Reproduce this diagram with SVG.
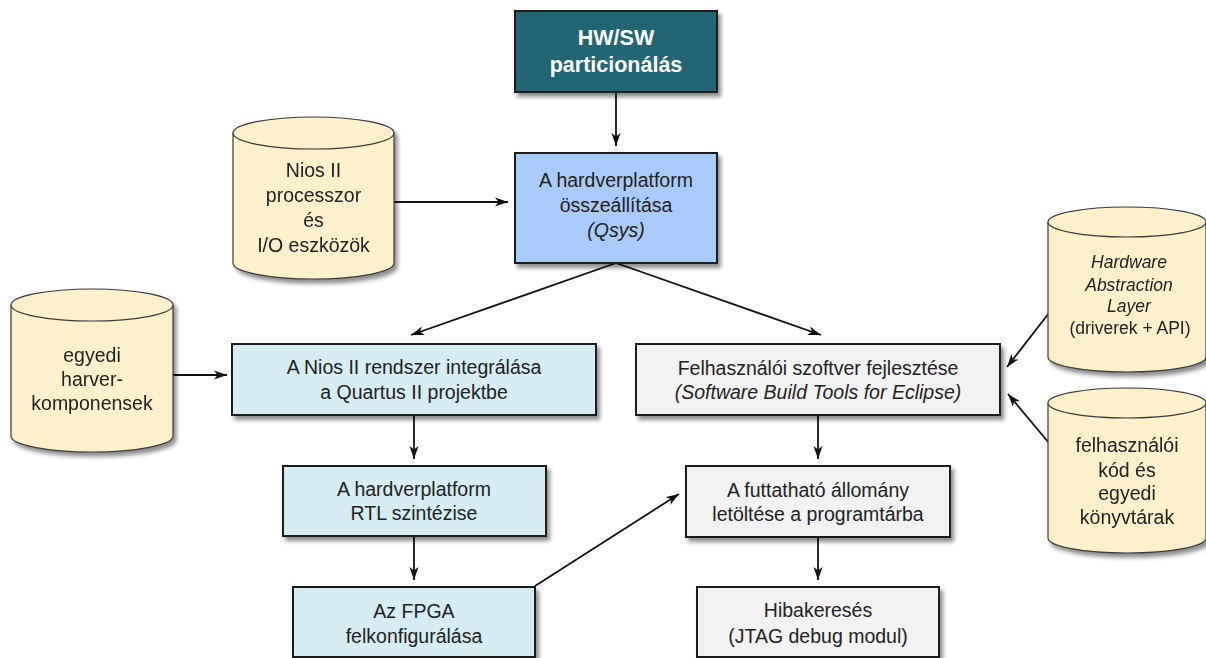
<svg xmlns="http://www.w3.org/2000/svg" width="1206" height="658" viewBox="0 0 1206 658">
<defs>
<filter id="sh" x="-10%" y="-10%" width="130%" height="140%">
<feDropShadow dx="3" dy="4" stdDeviation="2.2" flood-color="#000" flood-opacity="0.45"/>
</filter>
<marker id="ah" markerWidth="14" markerHeight="10" refX="13" refY="5" orient="auto" markerUnits="userSpaceOnUse">
<path d="M0,0.5 L13,5 L0,9.5 L3.5,5 Z" fill="#111"/>
</marker>
<style>
.box{stroke:#1a1a1a;stroke-width:2;filter:url(#sh)}
.cyl{fill:#fdf1cb;stroke:#3a3a3a;stroke-width:1.2}
.cylg{filter:url(#sh)}
.t{font-family:"Liberation Sans",Arial,sans-serif;font-size:19.5px;fill:#222;text-anchor:middle}
.s{font-size:17.5px}
.i{font-style:italic}
.w{fill:#fff;font-weight:bold;font-size:21.5px}
.c{stroke:#111;stroke-width:1.8;fill:none;marker-end:url(#ah)}
</style>
</defs>
<rect width="1206" height="658" fill="#fff"/>

<g id="connectors">
<line class="c" x1="616" y1="92" x2="616" y2="146"/>
<line class="c" x1="394" y1="202" x2="508" y2="202"/>
<line class="c" x1="616" y1="263" x2="411" y2="335"/>
<line class="c" x1="616" y1="263" x2="821" y2="335"/>
<line class="c" x1="173" y1="375" x2="227" y2="375"/>
<line class="c" x1="414" y1="415" x2="414" y2="459"/>
<line class="c" x1="414" y1="536" x2="414" y2="580"/>
<line class="c" x1="535" y1="586" x2="679" y2="494"/>
<line class="c" x1="1049" y1="313" x2="1007" y2="367"/>
<line class="c" x1="1049" y1="443" x2="1008" y2="394"/>
<line class="c" x1="818" y1="415" x2="818" y2="459"/>
<line class="c" x1="818" y1="537" x2="818" y2="580"/>
</g>

<g id="hwsw">
<rect class="box" x="515" y="11" width="202" height="81" fill="#216574"/>
<text class="t w" x="616" y="45">HW/SW</text>
<text class="t w" x="616" y="72">particionálás</text>
</g>

<g id="hardverplatform">
<rect class="box" x="515" y="153" width="202" height="110" fill="#a9cbfa"/>
<text class="t" x="616" y="187">A hardverplatform</text>
<text class="t" x="616" y="212">összeállítása</text>
<text class="t i" x="616" y="237">(Qsys)</text>
</g>

<g id="nios-cyl" class="cylg">
<path class="cyl" d="M233,133 A80.5,16 0 0 1 394,133 L394,263 A80.5,16 0 0 1 233,263 Z"/>
<path class="cyl" fill="none" d="M233,133 A80.5,16 0 0 0 394,133"/>
<text class="t" x="313.5" y="177">Nios II</text>
<text class="t" x="313.5" y="202">processzor</text>
<text class="t" x="313.5" y="227">és</text>
<text class="t" x="313.5" y="252">I/O eszközök</text>
</g>

<g id="egyedi-cyl" class="cylg">
<path class="cyl" d="M11,305 A81,16 0 0 1 173,305 L173,436 A81,16 0 0 1 11,436 Z"/>
<path class="cyl" fill="none" d="M11,305 A81,16 0 0 0 173,305"/>
<text class="t" x="92" y="362">egyedi</text>
<text class="t" x="92" y="386">harver-</text>
<text class="t" x="92" y="410">komponensek</text>
</g>

<g id="hal-cyl" class="cylg">
<path class="cyl" d="M1048,222 A79,15 0 0 1 1206,222 L1206,357 A79,15 0 0 1 1048,357 Z"/>
<path class="cyl" fill="none" d="M1048,222 A79,15 0 0 0 1206,222"/>
<text class="t s i" x="1129" y="268">Hardware</text>
<text class="t s i" x="1129" y="291">Abstraction</text>
<text class="t s i" x="1129" y="312">Layer</text>
<text class="t s" x="1130" y="334">(driverek + API)</text>
</g>

<g id="felh-cyl" class="cylg">
<path class="cyl" d="M1048,403 A79,15 0 0 1 1206,403 L1206,538 A79,15 0 0 1 1048,538 Z"/>
<path class="cyl" fill="none" d="M1048,403 A79,15 0 0 0 1206,403"/>
<text class="t" x="1127" y="452">felhasználói</text>
<text class="t" x="1127" y="477">kód és</text>
<text class="t" x="1127" y="500">egyedi</text>
<text class="t" x="1127" y="524">könyvtárak</text>
</g>

<g id="nios-integ">
<rect class="box" x="232" y="344" width="364" height="71" fill="#d6edf3"/>
<text class="t" x="414" y="374">A Nios II rendszer integrálása</text>
<text class="t" x="414" y="399">a Quartus II projektbe</text>
</g>

<g id="rtl">
<rect class="box" x="283" y="466" width="263" height="70" fill="#d6edf3"/>
<text class="t" x="414" y="496">A hardverplatform</text>
<text class="t" x="414" y="520">RTL szintézise</text>
</g>

<g id="fpga">
<rect class="box" x="293" y="587" width="242" height="70" fill="#d6edf3"/>
<text class="t" x="414" y="618">Az FPGA</text>
<text class="t" x="414" y="643">felkonfigurálása</text>
</g>

<g id="szoftver">
<rect class="box" x="636" y="344" width="364" height="71" fill="#f2f2f2"/>
<text class="t" x="818" y="375">Felhasználói szoftver fejlesztése</text>
<text class="t i" x="818" y="399">(Software Build Tools for Eclipse)</text>
</g>

<g id="futtathato">
<rect class="box" x="686" y="466" width="264" height="71" fill="#f2f2f2"/>
<text class="t" x="818" y="497">A futtatható állomány</text>
<text class="t" x="818" y="521">letöltése a programtárba</text>
</g>

<g id="hibakereses">
<rect class="box" x="697" y="587" width="242" height="70" fill="#f2f2f2"/>
<text class="t" x="818" y="617">Hibakeresés</text>
<text class="t" x="818" y="643">(JTAG debug modul)</text>
</g>
</svg>
